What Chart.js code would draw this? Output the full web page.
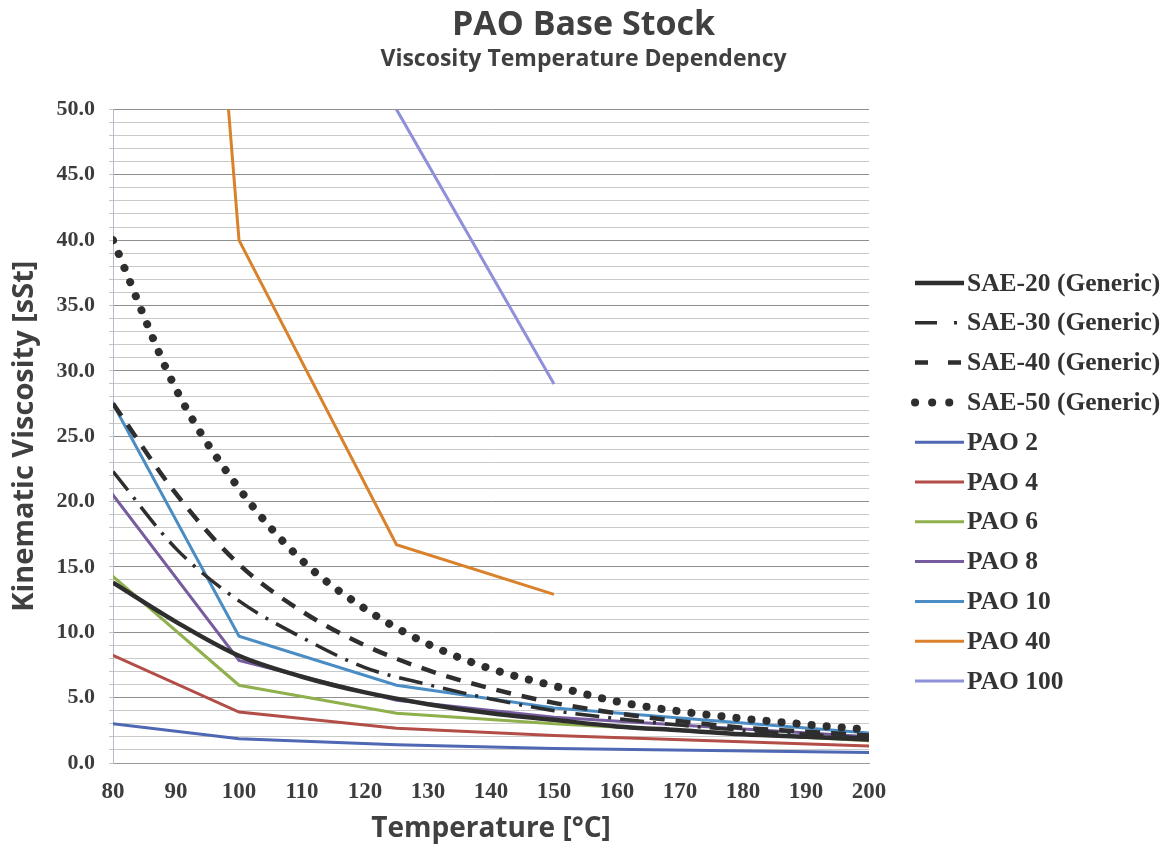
<!DOCTYPE html>
<html lang="en">
<head>
    <meta charset="UTF-8">
    <title>PAO Base Stock</title>
    <script src="https://cdn.jsdelivr.net/npm/chart.js"></script>
    <style>
        body {
            margin: 0;
            background-color: #fff;
        }
        #chart {
            display: block;
        }
    </style>
</head>
<body>
<canvas id="chart" width="1167" height="850"></canvas>

<script>
    // temperatures (°C) for the generic SAE curves
    const saeTemps = [80, 90, 100, 110, 120, 130, 140, 150, 160, 170, 180, 190, 200];
    const sae20 = [13.8, 10.8, 8.2, 6.6, 5.4, 4.5, 3.8, 3.3, 2.8, 2.5, 2.2, 2.0, 1.8];
    const sae30 = [22.3, 16.4, 12.4, 9.6, 7.3, 6.0, 4.9, 4.0, 3.4, 2.9, 2.5, 2.2, 1.9];
    const sae40 = [27.5, 20.6, 15.2, 11.6, 9.0, 7.1, 5.7, 4.6, 3.8, 3.2, 2.7, 2.4, 2.1];
    const sae50 = [40.0, 28.6, 21.0, 15.5, 11.8, 9.1, 7.2, 5.9, 4.7, 3.95, 3.4, 2.95, 2.55];

    // PAO grades, measured at these temperatures (40 °C lies left of the axis)
    const paoTemps = [40, 100, 125, 150, 200];
    const pao2 = [5.3, 1.85, 1.4, 1.1, 0.8];
    const pao4 = [16.9, 3.9, 2.65, 2.1, 1.3];
    const pao6 = [30.9, 5.95, 3.8, 3.0, 1.7];
    const pao8 = [45.8, 7.85, 4.8, 3.5, 2.0];
    const pao10 = [63.0, 9.7, 5.95, 4.2, 2.3];
    const pao40Temps = [40, 100, 125, 150];
    const pao40 = [400, 40.0, 16.7, 12.9];
    const pao100Temps = [125, 150];
    const pao100 = [50.0, 29.0];

    const xTicks = { min: 80, max: 200, step: 10 };
    const yTicks = { min: 0, max: 50, step: 1, labelEvery: 5 };

    const serif = '"Liberation Serif", "Times New Roman", serif';
    const sans = '"Open Sans", Lato, sans-serif';

    function pts(xs, ys) {
        return xs.map((x, i) => ({ x: x, y: ys[i] }));
    }

    function saeSet(label, ys, width, dash, cap, legendDash) {
        return {
            label: label,
            data: pts(saeTemps, ys),
            borderColor: '#2e2e2e',
            borderWidth: width,
            borderDash: dash,
            borderCapStyle: cap,
            cubicInterpolationMode: 'monotone',
            legendDash: legendDash,
            legendWidth: width
        };
    }

    function paoSet(label, xs, ys, color) {
        return {
            label: label,
            data: pts(xs, ys),
            borderColor: color,
            borderWidth: 3,
            borderDash: [],
            borderCapStyle: 'butt',
            tension: 0,
            legendDash: [],
            legendWidth: 3
        };
    }

    const datasets = [
        saeSet('SAE-20 (Generic)', sae20, 4.5, [], 'butt', []),
        saeSet('SAE-30 (Generic)', sae30, 3.5, [24, 9, 3, 9], 'butt', [22, 17, 3, 20]),
        saeSet('SAE-40 (Generic)', sae40, 4.5, [15, 11], 'butt', [13, 20]),
        saeSet('SAE-50 (Generic)', sae50, 8, [0.1, 15], 'round', [0.1, 17]),
        paoSet('PAO 2', paoTemps, pao2, '#4f68b4'),
        paoSet('PAO 4', paoTemps, pao4, '#b34d47'),
        paoSet('PAO 6', paoTemps, pao6, '#8fb04c'),
        paoSet('PAO 8', paoTemps, pao8, '#765c9e'),
        paoSet('PAO 10', paoTemps, pao10, '#4a8cc4'),
        paoSet('PAO 40', pao40Temps, pao40, '#d9822b'),
        paoSet('PAO 100', pao100Temps, pao100, '#8e90da')
    ];
    datasets.forEach(d => {
        d.pointRadius = 0;
        d.fill = false;
        d.clip = 0;
    });

    // legend at the right, drawn by hand so the dash styles show properly
    const sideLegend = {
        id: 'sideLegend',
        afterDraw(chart) {
            const ctx = chart.ctx;
            const x0 = 915, x1 = 964, tx = 967;
            ctx.save();
            ctx.font = 'bold 25.5px ' + serif;
            ctx.textBaseline = 'middle';
            chart.data.datasets.forEach((ds, i) => {
                const y = 283 + 39.8 * i;
                ctx.beginPath();
                ctx.strokeStyle = ds.borderColor;
                ctx.lineWidth = ds.legendWidth;
                ctx.lineCap = ds.borderCapStyle;
                ctx.setLineDash(ds.legendDash);
                ctx.moveTo(x0, y);
                ctx.lineTo(x1, y);
                ctx.stroke();
                ctx.setLineDash([]);
                ctx.fillStyle = '#333';
                ctx.fillText(ds.label, tx, y + 1);
            });
            ctx.restore();
        }
    };

    new Chart(document.getElementById('chart'), {
        type: 'line',
        data: { datasets: datasets },
        plugins: [sideLegend],
        options: {
            responsive: false,
            animation: false,
            devicePixelRatio: 1,
            scales: {
                x: {
                    type: 'linear',
                    min: xTicks.min,
                    max: xTicks.max,
                    afterFit(scale) { scale.height = 87; },
                    ticks: {
                        stepSize: xTicks.step,
                        color: '#3c3c3c',
                        padding: 7,
                        font: { family: serif, size: 23, weight: 'bold' }
                    },
                    grid: { display: false },
                    border: { display: true, color: '#9a9a9a' },
                    title: {
                        display: true,
                        text: 'Temperature [°C]',
                        color: '#404040',
                        padding: { top: 0, bottom: 4 },
                        font: { family: sans, size: 28, weight: 'bold' }
                    }
                },
                y: {
                    min: yTicks.min,
                    max: yTicks.max,
                    afterFit(scale) { scale.width = 113; },
                    ticks: {
                        stepSize: yTicks.step,
                        autoSkip: false,
                        color: '#3c3c3c',
                        padding: 14,
                        font: { family: serif, size: 22, weight: 'bold' },
                        callback: v => v % yTicks.labelEvery === 0 ? v.toFixed(1) : ''
                    },
                    grid: {
                        drawTicks: true,
                        tickLength: 4,
                        tickColor: '#c4c4c4',
                        color: c => c.tick && c.tick.value % yTicks.labelEvery === 0 ? '#8f8f8f' : '#c9c9c9',
                        lineWidth: 1
                    },
                    border: { display: true, color: '#b6bacb' },
                    title: {
                        display: true,
                        text: 'Kinematic Viscosity [sSt]',
                        color: '#404040',
                        padding: { top: 7, bottom: 0 },
                        font: { family: sans, size: 29, weight: 'bold' }
                    }
                },
                // empty axis on the right only keeps room for the legend
                legendRoom: {
                    type: 'linear',
                    position: 'right',
                    min: 0,
                    max: 1,
                    afterFit(scale) { scale.width = 298; },
                    ticks: { display: false },
                    grid: { display: false, drawTicks: false },
                    border: { display: false }
                }
            },
            plugins: {
                legend: { display: false },
                tooltip: { enabled: false },
                title: {
                    display: true,
                    text: 'PAO Base Stock',
                    color: '#404040',
                    padding: { top: 5, bottom: 0 },
                    font: { family: sans, size: 34, weight: 'bold' }
                },
                subtitle: {
                    display: true,
                    text: 'Viscosity Temperature Dependency',
                    color: '#404040',
                    padding: { top: 0, bottom: 36 },
                    font: { family: sans, size: 23, weight: 'bold' }
                }
            }
        }
    });
</script>
</body>
</html>
